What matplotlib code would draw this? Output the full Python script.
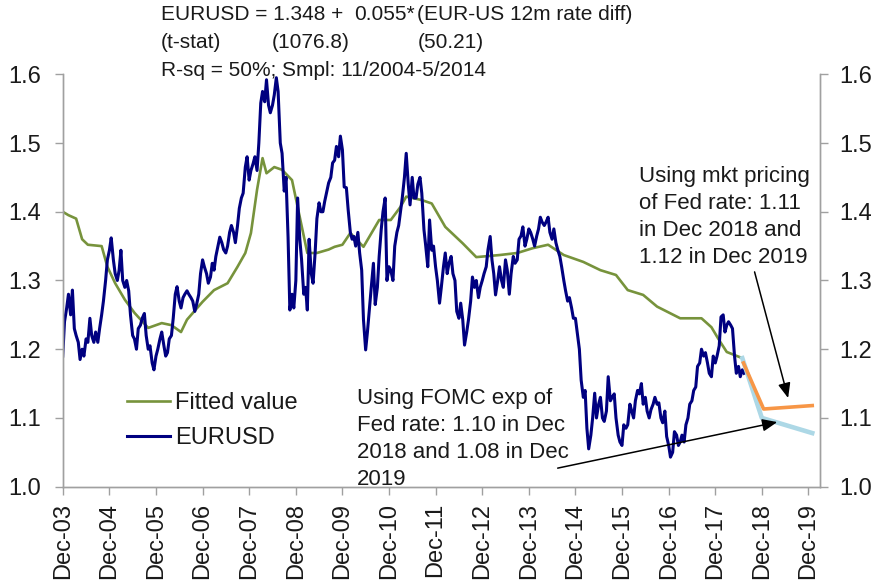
import matplotlib
matplotlib.use("Agg")
import matplotlib.pyplot as plt
import pandas as pd

plt.rcParams['font.family'] = ['Liberation Sans', 'DejaVu Sans']

# EURUSD, twice a month (1st and 15th) from Dec 2003
eurusd = [
    1.19, 1.24,
    # 2004
    1.26, 1.28, 1.25, 1.286, 1.23, 1.22, 1.21, 1.185, 1.20, 1.19, 1.215, 1.21,
    1.245, 1.22, 1.21, 1.225, 1.21, 1.23, 1.25, 1.27, 1.30, 1.33, 1.344, 1.362,
    # 2005
    1.33, 1.31, 1.30, 1.315, 1.344, 1.30, 1.29, 1.30, 1.285, 1.25, 1.22, 1.215,
    1.20, 1.23, 1.235, 1.245, 1.252, 1.22, 1.20, 1.205, 1.18, 1.17, 1.19, 1.20,
    # 2006
    1.215, 1.225, 1.205, 1.19, 1.195, 1.215, 1.22, 1.245, 1.28, 1.291, 1.27, 1.26,
    1.275, 1.28, 1.285, 1.28, 1.275, 1.27, 1.255, 1.265, 1.28, 1.31, 1.33, 1.32,
    # 2007
    1.31, 1.296, 1.305, 1.325, 1.315, 1.335, 1.35, 1.363, 1.355, 1.345, 1.34, 1.35,
    1.37, 1.38, 1.37, 1.355, 1.38, 1.405, 1.42, 1.427, 1.465, 1.48, 1.446, 1.46,
    # 2008
    1.47, 1.48, 1.46, 1.50, 1.558, 1.575, 1.56, 1.592, 1.555, 1.544, 1.555, 1.57,
    1.595, 1.575, 1.50, 1.485, 1.43, 1.45, 1.363, 1.257, 1.28, 1.26, 1.30, 1.42,
    # 2009
    1.36, 1.33, 1.28, 1.29, 1.257, 1.36, 1.31, 1.296, 1.34, 1.39, 1.413, 1.40,
    1.40, 1.415, 1.43, 1.442, 1.45, 1.471, 1.475, 1.495, 1.48, 1.51, 1.49, 1.436,
    # 2010
    1.435, 1.403, 1.37, 1.36, 1.364, 1.35, 1.37, 1.34, 1.315, 1.243, 1.199, 1.225,
    1.26, 1.29, 1.325, 1.265, 1.29, 1.335, 1.374, 1.40, 1.42, 1.30, 1.32, 1.315,
    # 2011
    1.30, 1.35, 1.37, 1.38, 1.40, 1.42, 1.45, 1.485, 1.44, 1.41, 1.45, 1.42,
    1.42, 1.44, 1.45, 1.427, 1.374, 1.35, 1.32, 1.388, 1.344, 1.35, 1.32, 1.30,
    # 2012
    1.267, 1.29, 1.32, 1.34, 1.31, 1.325, 1.335, 1.31, 1.30, 1.255, 1.245, 1.267,
    1.243, 1.206, 1.225, 1.243, 1.27, 1.305, 1.29, 1.30, 1.275, 1.29, 1.30, 1.31,
    # 2013
    1.32, 1.345, 1.364, 1.33, 1.31, 1.279, 1.30, 1.32, 1.30, 1.29, 1.33, 1.315,
    1.28, 1.31, 1.335, 1.325, 1.33, 1.36, 1.365, 1.378, 1.35, 1.36, 1.375, 1.37,
    # 2014
    1.36, 1.35, 1.365, 1.375, 1.392, 1.385, 1.38, 1.385, 1.392, 1.37, 1.36, 1.375,
    1.355, 1.345, 1.335, 1.32, 1.30, 1.285, 1.27, 1.275, 1.26, 1.245, 1.245, 1.225,
    # 2015
    1.20, 1.155, 1.13, 1.14, 1.085, 1.055, 1.075, 1.10, 1.136, 1.10, 1.12, 1.13,
    1.10, 1.095, 1.11, 1.16, 1.125, 1.13, 1.135, 1.10, 1.075, 1.065, 1.06, 1.09,
    # 2016
    1.085, 1.09, 1.12, 1.11, 1.10, 1.125, 1.14, 1.135, 1.15, 1.12, 1.13, 1.11,
    1.10, 1.112, 1.12, 1.13, 1.12, 1.122, 1.10, 1.093, 1.11, 1.073, 1.06, 1.043,
    # 2017
    1.05, 1.08, 1.075, 1.06, 1.065, 1.075, 1.065, 1.09, 1.10, 1.12, 1.125, 1.14,
    1.145, 1.175, 1.18, 1.20, 1.19, 1.195, 1.18, 1.165, 1.16, 1.19, 1.18, 1.19,
    # 2018
    1.205, 1.247, 1.25, 1.225, 1.235, 1.24, 1.235, 1.23, 1.19, 1.165, 1.175, 1.16,
    1.17, 1.165,
]

# fitted value from the regression
fit_dates = [
    '2003-12-01', '2004-01-15', '2004-03-15', '2004-05-01', '2004-06-15', '2004-10-01',
    '2004-11-15', '2005-01-15', '2005-04-01', '2005-06-15', '2005-10-01', '2006-01-15',
    '2006-04-01', '2006-06-15', '2006-08-01', '2006-12-01', '2007-03-01', '2007-06-15',
    '2007-09-01', '2007-11-01', '2007-12-15', '2008-02-01', '2008-03-15', '2008-04-15',
    '2008-06-15', '2008-08-15', '2008-11-01', '2008-12-15', '2009-03-01', '2009-05-15',
    '2009-08-15', '2009-10-01', '2009-12-01', '2010-02-01', '2010-05-15', '2010-09-15',
    '2010-12-15', '2011-03-01', '2011-04-15', '2011-08-15', '2011-11-01', '2012-02-15',
    '2012-07-01', '2012-10-15', '2013-04-15', '2013-09-01', '2014-01-01', '2014-05-01',
    '2014-09-01', '2015-02-01', '2015-06-15', '2015-10-15', '2016-01-15', '2016-05-15',
    '2016-09-01', '2017-03-01', '2017-08-15', '2017-11-01', '2018-01-01', '2018-03-01',
    '2018-07-01',
]
fit_vals = [
    1.40, 1.395, 1.39, 1.36, 1.352, 1.35,
    1.32, 1.296, 1.272, 1.253, 1.231, 1.238,
    1.235, 1.225, 1.243, 1.269, 1.286, 1.296,
    1.32, 1.34, 1.369, 1.432, 1.478, 1.456,
    1.465, 1.461, 1.446, 1.407, 1.34, 1.34,
    1.345, 1.349, 1.352, 1.369, 1.349, 1.388,
    1.388, 1.407, 1.422, 1.417, 1.412, 1.378,
    1.354, 1.334, 1.337, 1.34, 1.347, 1.352,
    1.337, 1.327, 1.315, 1.308, 1.286, 1.279,
    1.262, 1.245, 1.245, 1.232, 1.213, 1.196,
    1.187,
]

# projections
fomc_dates = ['2018-07-01', '2018-12-01', '2019-12-31']
fomc_vals = [1.187, 1.10, 1.078]
mkt_dates = ['2018-07-10', '2018-12-15', '2019-12-31']
mkt_vals = [1.18, 1.113, 1.118]

tick_years = list(range(2003, 2020))
yticks = [1.0, 1.1, 1.2, 1.3, 1.4, 1.5, 1.6]

grey = '#a0a0a0'
txt = '#1a1a1a'

eur_dates = pd.date_range('2003-12-01', periods=len(eurusd), freq='SMS')

fig = plt.figure(figsize=(8.76, 5.83), dpi=100)
ax = fig.add_axes([0.0716, 0.1652, 0.8645, 0.7074])

l_fit, = ax.plot(pd.to_datetime(fit_dates), fit_vals, color='#77933c', lw=1.9)
l_eur, = ax.plot(eur_dates, eurusd, color='#000080', lw=2.2)
ax.plot(pd.to_datetime(fomc_dates), fomc_vals, color='#add8e6', lw=3.3)
ax.plot(pd.to_datetime(mkt_dates), mkt_vals, color='#f79646', lw=2.6)

ax.set_xlim(pd.Timestamp('2003-12-01'), pd.Timestamp('2020-03-01'))
ax.set_ylim(1.0, 1.6)
ax.set_xticks([pd.Timestamp(f'{y}-12-01') for y in tick_years])
ax.set_xticklabels([f'Dec-{y % 100:02d}' for y in tick_years], rotation=90)
ax.set_yticks(yticks)
ax.set_yticklabels([f'{v:.1f}' for v in yticks])

ax2 = ax.twinx()
ax2.set_ylim(1.0, 1.6)
ax2.set_yticks(yticks)
ax2.set_yticklabels([f'{v:.1f}' for v in yticks])

for a in (ax, ax2):
    a.spines['top'].set_visible(False)
    for s in ('left', 'right', 'bottom'):
        a.spines[s].set_color(grey)
        a.spines[s].set_linewidth(1.0)
ax.tick_params(axis='y', direction='out', length=5.5, width=1, color=grey,
               labelsize=17, labelcolor=txt, pad=10)
ax.tick_params(axis='x', direction='out', length=5.5, width=1, color=grey,
               labelsize=17, labelcolor=txt, pad=6)
ax2.tick_params(axis='y', direction='out', length=5.5, width=1, color=grey,
                labelsize=17, labelcolor=txt, pad=8)

ax.legend([l_fit, l_eur], ['Fitted value', 'EURUSD'], loc='center left',
          bbox_to_anchor=(0.085, 0.1605), frameon=False, fontsize=17,
          handlelength=1.8, handletextpad=0.25, borderpad=0, borderaxespad=0,
          labelspacing=0.55, labelcolor=txt)

# regression text at the top
W, H = 876, 583
def ftext(x, y, s):
    fig.text(x / W, 1 - y / H, s, fontsize=15, color=txt, va='center', ha='left')

ftext(161, 15, 'EURUSD = 1.348 +')
ftext(354, 15, '0.055*')
ftext(417, 15, '(EUR-US 12m rate diff)')
ftext(161, 43, '(t-stat)')
ftext(272, 43, '(1076.8)')
ftext(418, 43, '(50.21)')
ftext(161, 70, 'R-sq = 50%; Smpl: 11/2004-5/2014')

fig.text(357 / W, 1 - 439 / H,
         'Using FOMC exp of\nFed rate: 1.10 in Dec\n2018 and 1.08 in Dec\n2019',
         fontsize=16, color=txt, va='center', ha='left', linespacing=1.38)
fig.text(639 / W, 1 - 217 / H,
         'Using mkt pricing\nof Fed rate: 1.11\nin Dec 2018 and\n1.12 in Dec 2019',
         fontsize=16, color=txt, va='center', ha='left', linespacing=1.38)

arrow = dict(arrowstyle='-|>,head_length=0.6,head_width=0.25', color='black',
             lw=1.1, mutation_scale=15, shrinkA=0, shrinkB=0)
ax.annotate('', xy=(pd.Timestamp('2019-06-25'), 1.129),
            xytext=(pd.Timestamp('2018-10-05'), 1.3125), arrowprops=arrow)
ax.annotate('', xy=(pd.Timestamp('2019-04-01'), 1.094),
            xytext=(pd.Timestamp('2014-07-15'), 1.027), arrowprops=arrow,
            annotation_clip=False)

fig.savefig('out.png', dpi=100)
